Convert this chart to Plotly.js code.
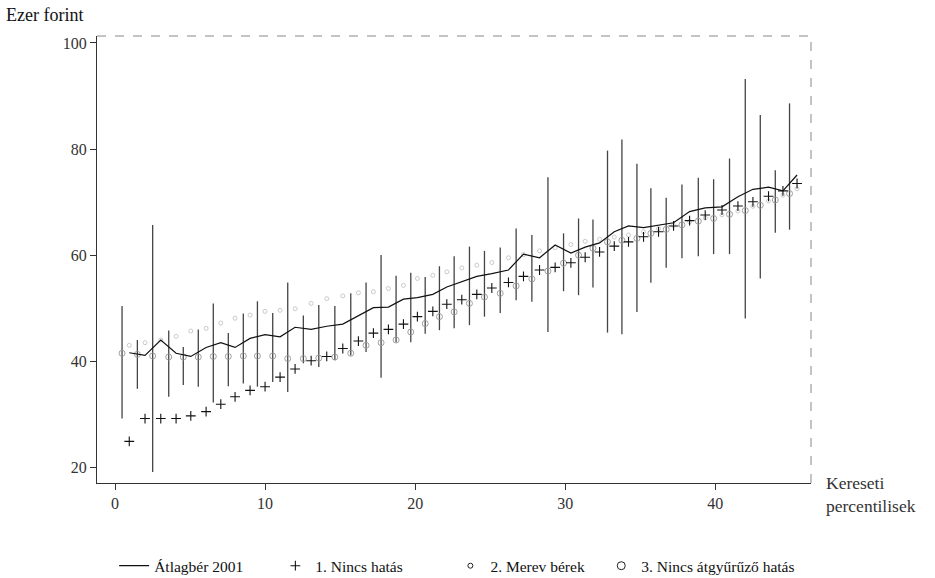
<!DOCTYPE html>
<html>
<head>
<meta charset="utf-8">
<script src="https://cdn.plot.ly/plotly-3.0.1.min.js"></script>
<style>html,body{margin:0;padding:0;background:#fff}#chart{width:935px;height:578px}</style>
</head>
<body>
<div id="chart"></div>
<script>
// Percentile positions
var pointX = [0.95,2.0,3.05,4.07,5.05,6.07,7.05,8.0,9.0,10.0,11.0,12.0,13.07,14.11,15.18,16.22,17.22,18.22,19.22,20.15,21.18,22.11,23.11,24.11,25.11,26.22,27.22,28.29,29.33,30.38,31.33,32.29,33.27,34.22,35.22,36.22,37.22,38.29,39.33,40.45,41.51,42.51,43.55,44.51,45.45];
var barX = [0.47,1.49,2.51,3.58,4.55,5.55,6.55,7.55,8.55,9.49,10.51,11.51,12.55,13.58,14.65,15.71,16.73,17.73,18.73,19.71,20.67,21.62,22.6,23.62,24.62,25.67,26.73,27.78,28.85,29.89,30.89,31.85,32.82,33.78,34.78,35.71,36.73,37.78,38.87,39.89,40.95,42.0,43.0,44.0,44.95];

// Átlagbér 2001 (line)
var atlagber = [41.6,41.1,44.0,41.5,40.9,42.6,43.5,42.6,44.3,45.0,44.6,46.4,46.0,46.6,47.0,48.5,50.1,50.2,51.7,52.0,52.6,54.0,55.0,56.0,56.5,57.2,60.2,59.5,61.9,60.4,61.5,62.3,64.4,65.5,65.2,65.6,66.1,68.2,68.9,69.1,71.0,72.4,72.8,72.1,75.1];
// 1. Nincs hatás (+)
var nincsHatas = [24.9,29.2,29.2,29.2,29.7,30.5,31.9,33.3,34.5,35.2,37.0,38.55,40.1,40.9,42.4,43.8,45.3,46.0,47.0,48.4,49.4,50.75,51.6,52.6,53.8,54.85,56.0,57.2,57.7,58.55,59.6,60.6,61.7,62.5,63.45,64.4,65.5,66.5,67.55,68.5,69.25,70.05,71.1,72.1,73.5];
// 2. Merev bérek
var merevBerek = [43.0,43.5,44.0,44.7,45.7,46.2,47.2,48.1,48.7,49.4,49.6,49.9,50.9,51.8,52.3,52.9,53.1,53.7,54.3,55.6,56.2,56.85,57.6,58.1,58.6,59.5,60.1,60.8,61.4,62.0,62.6,63.0,63.4,63.8,64.4,65.0,65.6,66.3,67.0,67.6,68.3,69.2,70.2,71.3,72.5];
// 3. Nincs átgyűrűző hatás
var nincsAtgyuruzo = [41.5,41.3,41.0,40.8,40.8,40.8,40.9,40.9,41.0,41.0,41.0,40.5,40.5,40.6,40.8,41.5,43.0,43.5,44.0,45.5,47.1,48.4,49.3,50.9,52.1,52.8,54.2,55.5,57.0,58.5,60.0,61.3,62.5,62.8,63.15,64.1,64.85,65.7,66.4,66.9,67.7,68.4,69.4,70.4,71.6];
// Vertical ranges
var barLow  = [29.2,34.8,19.1,33.3,35.5,35.2,32.2,35.3,35.8,35.2,36.1,34.2,39.6,38.9,40.2,41.1,41.75,36.9,43.6,43.6,45.2,45.85,46.2,46.8,48.4,49.1,51.5,51.2,45.5,53.2,52.45,53.9,45.4,45.1,49.3,54.8,57.6,59.4,59.8,60.2,60.2,48.05,55.6,64.2,64.8];
var barHigh = [50.4,44.0,65.7,45.8,42.7,46.0,50.9,45.3,49.0,51.3,49.1,54.85,48.6,50.6,50.4,52.8,54.85,60.0,56.1,56.7,55.9,57.9,59.8,61.6,60.8,61.45,65.0,63.8,74.7,64.1,66.9,66.7,79.7,81.8,77.2,72.6,70.8,73.3,74.6,74.3,78.2,93.2,86.4,76.0,88.6];

var xTicks = [0,10,20,30,40];
var yTicks = [20,40,60,80,100];

var font = 'Liberation Serif';
var pad = function (n) { return '\u00a0'.repeat(n); };

var bx = [], by = [];
for (var i = 0; i < barX.length; i++) {
  bx.push(barX[i], barX[i], null);
  by.push(barLow[i], barHigh[i], null);
}

var traces = [
  {x: bx, y: by, mode: 'lines', line: {color: '#444', width: 1.3}, showlegend: false, hoverinfo: 'skip'},
  {x: barX, y: nincsAtgyuruzo, mode: 'markers', name: '3. Nincs átgyűrűző hatás',
   marker: {symbol: 'circle-open', size: 6, color: '#959595', line: {width: 0.9}}, showlegend: false},
  {x: pointX, y: merevBerek, mode: 'markers', name: '2. Merev bérek',
   marker: {symbol: 'circle-open', size: 4, color: '#c4c4c4', line: {width: 0.9}}, showlegend: false},
  {x: pointX, y: atlagber, mode: 'lines', name: 'Átlagbér 2001' + pad(7), line: {color: '#111', width: 1.2}},
  {x: pointX, y: nincsHatas, mode: 'markers', name: '1. Nincs hatás' + pad(11),
   marker: {symbol: 'cross-thin-open', size: 7, color: '#111', line: {width: 1.1, color: '#111'}}},
  // legend entries for the other two series, in legend order
  {x: [null], y: [null], mode: 'markers', name: '2. Merev bérek' + pad(3),
   marker: {symbol: 'circle-open', size: 5, color: '#222', line: {width: 1}}},
  {x: [null], y: [null], mode: 'markers', name: '3. Nincs átgyűrűző hatás',
   marker: {symbol: 'circle-open', size: 8, color: '#222', line: {width: 1}}}
];

var layout = {
  width: 935, height: 578,
  margin: {l: 97, r: 124, t: 36, b: 95, autoexpand: false},
  paper_bgcolor: '#fff', plot_bgcolor: '#fff',
  font: {family: font, color: '#222', size: 15},
  showlegend: true,
  legend: {orientation: 'h', x: 0.024, xanchor: 'left', y: -0.186, yanchor: 'middle',
           font: {family: font, size: 15.5, color: '#111'}, itemwidth: 30, tracegroupgap: 0},
  xaxis: {range: [-1.2, 46.38], tickvals: xTicks, ticktext: xTicks.map(String),
          showgrid: false, zeroline: false, showline: true, linecolor: '#333', linewidth: 1,
          ticks: 'outside', ticklen: 6, tickcolor: '#333',
          tickfont: {family: font, size: 16, color: '#333'}},
  yaxis: {range: [17.05, 101.3], tickvals: yTicks, ticktext: yTicks.map(String),
          showgrid: false, zeroline: false, showline: true, linecolor: '#333', linewidth: 1,
          ticks: 'outside', ticklen: 6, tickcolor: '#333',
          tickfont: {family: font, size: 16, color: '#333'}},
  shapes: [
    {type: 'line', xref: 'paper', yref: 'paper', x0: 0, x1: 1, y0: 1, y1: 1,
     line: {color: '#888', width: 1, dash: 'dash'}},
    {type: 'line', xref: 'paper', yref: 'paper', x0: 1, x1: 1, y0: 0, y1: 1,
     line: {color: '#888', width: 1, dash: 'dash'}}
  ],
  annotations: [
    {text: 'Ezer forint', xref: 'paper', yref: 'paper', x: -0.13, y: 1.0, xanchor: 'left', yanchor: 'bottom',
     yshift: 9, showarrow: false, font: {family: font, size: 18, color: '#111'}},
    {text: 'Kereseti<br>percentilisek', xref: 'paper', yref: 'paper', x: 1, y: 0, xanchor: 'left', yanchor: 'top',
     xshift: 13, yshift: 12, align: 'left', showarrow: false, font: {family: font, size: 17.5, color: '#333'}}
  ]
};

Plotly.newPlot('chart', traces, layout, {displayModeBar: false, staticPlot: true});
</script>
</body>
</html>
